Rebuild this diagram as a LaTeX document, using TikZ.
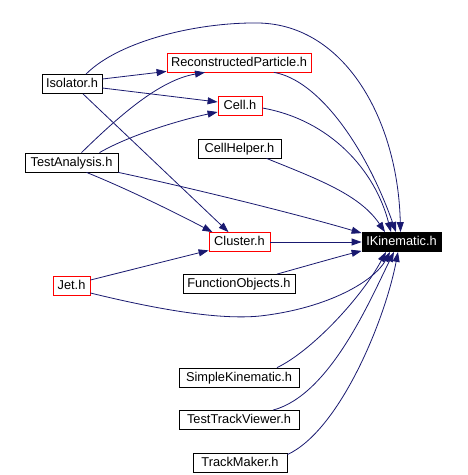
\documentclass[tikz,border=0pt]{standalone}
\usepackage{fontspec}
\setmainfont{Liberation Sans}
\usetikzlibrary{arrows.meta,calc}
\definecolor{edgeblue}{RGB}{25,25,112}
\begin{document}
\begin{tikzpicture}[x=1pt,y=-1pt,
  hdr/.style={draw=black,line width=0.8pt,fill=white,font=\fontsize{12.8}{14}\selectfont,
    minimum height=19pt,inner xsep=1pt,inner ysep=0pt,text height=9.5pt,text depth=2.5pt},
  redhdr/.style={hdr,draw=red},
  focus/.style={hdr,fill=black,text=white},
  dep/.style={draw=edgeblue,line width=0.8pt,-{Triangle[length=10pt,width=7pt]}}]
\useasboundingbox[fill=white] (0,0) rectangle (468,475);

\node[hdr,minimum width=60pt] (iso) at (72,84) {Isolator.h};
\node[redhdr,minimum width=144pt] (rp) at (239,62.5) {ReconstructedParticle.h};
\node[redhdr,minimum width=44pt] (cell) at (240,105.5) {Cell.h};
\node[hdr,minimum width=83pt] (ch) at (239.5,148.5) {CellHelper.h};
\node[hdr,minimum width=93pt] (ta) at (71.5,162.5) {TestAnalysis.h};
\node[redhdr,minimum width=61pt] (cl) at (239.5,242) {Cluster.h};
\node[focus,minimum width=79pt] (ik) at (401.5,242) {IKinematic.h};
\node[hdr,minimum width=112pt] (fo) at (239,284) {FunctionObjects.h};
\node[redhdr,minimum width=37pt] (jet) at (71.5,285.5) {Jet.h};
\node[hdr,minimum width=120pt] (sk) at (239,377.5) {SimpleKinematic.h};
\node[hdr,minimum width=120pt] (ttv) at (239,420) {TestTrackViewer.h};
\node[hdr,minimum width=94pt] (tm) at (240,462.5) {TrackMaker.h};

% Isolator.h
\draw[dep] ([yshift=5pt]iso.east) -- ([yshift=1pt]rp.south west);
\draw[dep] ([yshift=-4pt]iso.east) -- ([yshift=3.5pt]cell.west);
\draw[dep] ([xshift=11pt]iso.south) -- ([xshift=-11pt]cl.north);
\draw[dep] ([xshift=14pt]iso.north) .. controls (120,40) and (200,22) .. (259,23)
  .. controls (345,25) and (398,120) .. ([xshift=-1pt]ik.north);
% TestAnalysis.h
\draw[dep] ([xshift=10pt]ta.north) .. controls (120,115) and (160,80) .. ([xshift=-34pt]rp.south);
\draw[dep] ([xshift=28pt]ta.north) .. controls (130,135) and (180,120) .. ([yshift=-6.5pt]cell.west);
\draw[dep] (ta.south east) .. controls (200,190) and (300,215) .. ([yshift=-1pt]ik.north west);
\draw[dep] ([xshift=15pt]ta.south) .. controls (130,190) and (180,215) .. ([xshift=-27pt]cl.north);
% headers pointing to IKinematic.h
\draw[dep] ([xshift=35pt]rp.south) .. controls (318,80) and (365,145) .. ([xshift=-5.5pt]ik.north);
\draw[dep] ([yshift=-2.5pt]cell.east) .. controls (330,120) and (375,170) .. ([xshift=-10.5pt]ik.north);
\draw[dep] ([xshift=27pt]ch.south) .. controls (320,180) and (360,195) .. ([xshift=-16.5pt]ik.north);
\draw[dep] (cl.east) -- (ik.west);
% Jet.h
\draw[dep] ([yshift=5.5pt]jet.east) -- ([yshift=1.5pt]cl.south west);
\draw[dep] ([yshift=-7.5pt]jet.east) .. controls (160,310) and (220,320) .. (260,316)
  .. controls (330,308) and (375,280) .. ([xshift=-11.5pt]ik.south);
% lower headers
\draw[dep] ([xshift=38pt]fo.north) .. controls (320,262) and (345,255) .. ([yshift=1pt]ik.south west);
\draw[dep] ([xshift=38pt]sk.north) .. controls (310,352) and (360,300) .. ([xshift=-15.5pt]ik.south);
\draw[dep] ([xshift=34pt]ttv.north) .. controls (330,395) and (370,300) .. ([xshift=-7.5pt]ik.south);
\draw[dep] ([yshift=-2pt]tm.north east) .. controls (340,430) and (385,320) .. ([xshift=-3.5pt]ik.south);
\end{tikzpicture}
\end{document}
